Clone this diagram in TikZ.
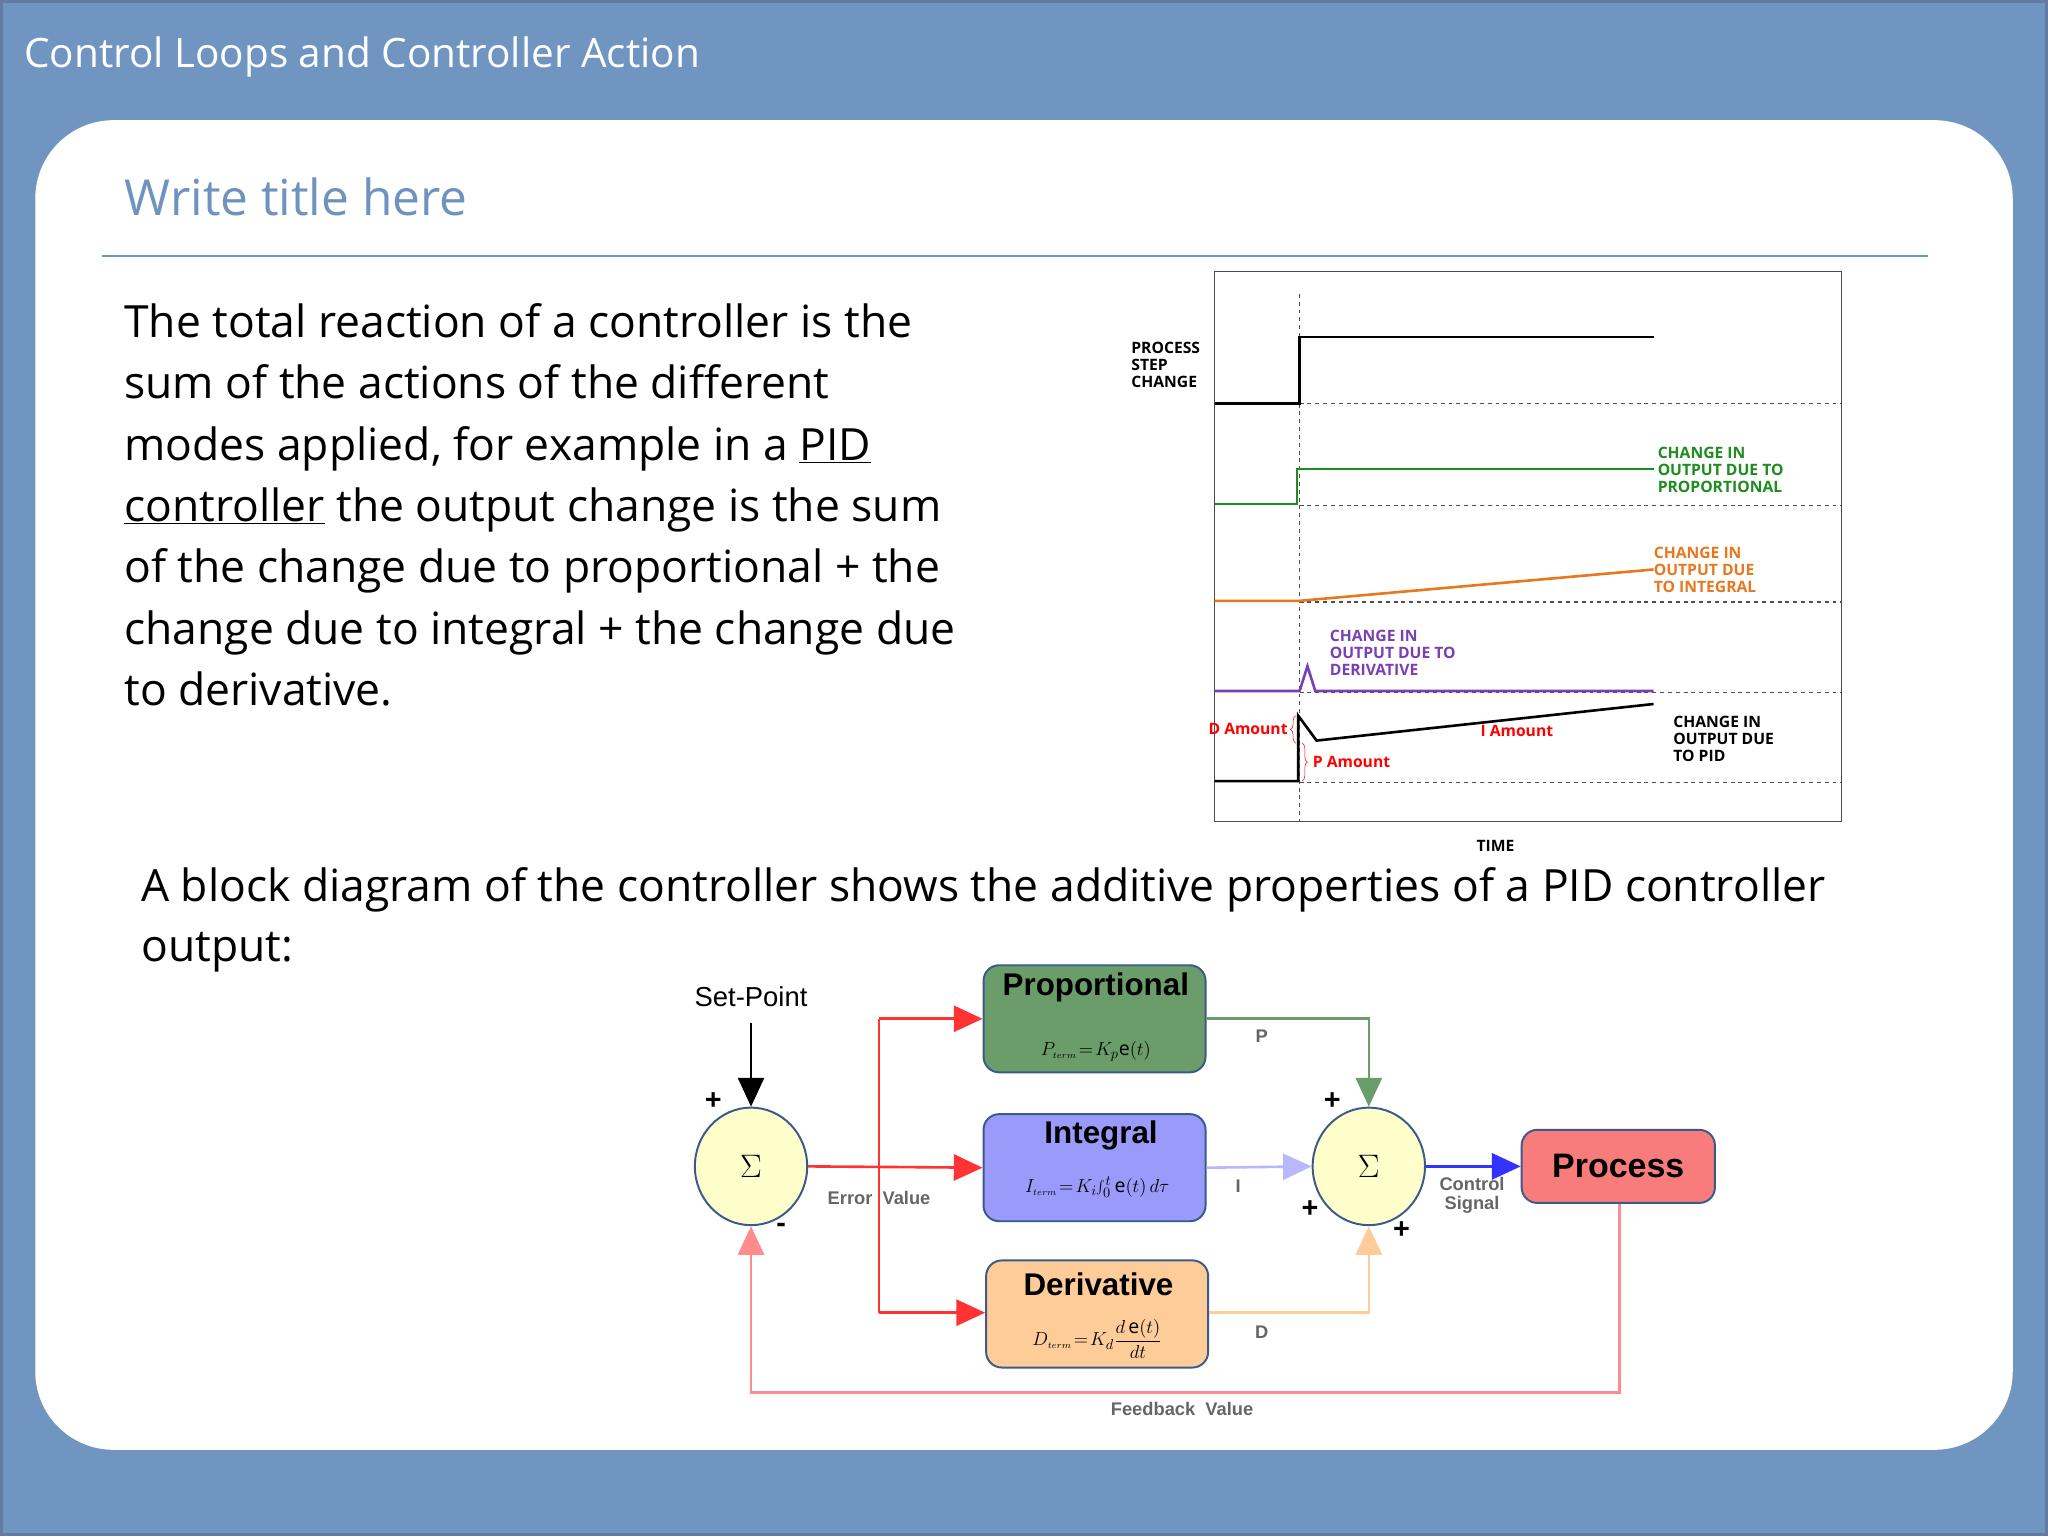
\documentclass[tikz,border=0pt]{standalone}
\usepackage{fontspec}
\setmainfont{Open Sans}
\newfontfamily\arialfont{Liberation Sans}
\usetikzlibrary{positioning}
\usetikzlibrary{arrows.meta}
\usetikzlibrary{calc, shapes}
\usetikzlibrary{decorations.pathreplacing}
\definecolor{slideBlue}{HTML}{7095C1}
\definecolor{titleBlue}{HTML}{6F93BF}
\definecolor{pGreen}{HTML}{6A9D6A}
\definecolor{iBlue}{HTML}{9A9AFA}
\definecolor{dOrange}{HTML}{FECC99}
\definecolor{procRed}{HTML}{F97C7C}
\definecolor{sumFill}{HTML}{FFFFCC}
\definecolor{boxEdge}{HTML}{3A5A8C}
\definecolor{plotGreen}{HTML}{1E8C1E}
\definecolor{plotOrange}{HTML}{E8781E}
\definecolor{plotPurple}{HTML}{7B3FB5}
\tikzset{%
	% Specifications for style of nodes:
	base/.style = {rectangle, rounded corners=12pt, draw=boxEdge, line width=1.5pt,
		inner sep=0pt, font=\arialfont},
	block/.style = {base, minimum width=170pt, minimum height=82pt},
	sumNode/.style = {ellipse, draw=boxEdge, line width=1.5pt, fill=sumFill,
		minimum width=86pt, minimum height=90pt, font=\fontsize{52}{52}\selectfont},
	plotLbl/.style = {anchor=west, font=\fontsize{12}{12}\selectfont\bfseries},
	gray/.style = {text=black!60, font=\arialfont\fontsize{14}{14}\selectfont\bfseries},
	sign/.style = {font=\arialfont\fontsize{22}{22}\selectfont\bfseries},
	bigTip/.style = {-{Triangle[length=22pt, width=20pt]}, line width=2pt}
}
\begin{document}
\begin{tikzpicture}[x=1pt, y=-1pt]
		\fill[slideBlue] (0,0) rectangle (1568,1176);
		\draw[boxEdge!80, line width=2pt] (1,1) rectangle (1567,1175);
		\node[anchor=west, text=white, font=\fontsize{31}{31}\selectfont] (slideTitle) at (15,44) {Control Loops and Controller Action};
		\fill[white, rounded corners=60pt] (27,92) rectangle (1541,1110);
		\node[anchor=west, text=titleBlue, font=\fontsize{38}{38}\selectfont] (subTitle) at (92,151) {Write title here};
		\draw[titleBlue, line width=1.5pt] (78,196) -- (1476,196);
		\node[anchor=north west, align=left, inner sep=0pt, font=\fontsize{34}{47}\selectfont] (bodyText) at (95,232) {The total reaction of a controller is the\\
			sum of the actions of the different\\
			modes applied, for example in a \underline{PID}\\
			\underline{controller} the output change is the sum\\
			of the change due to proportional + the\\
			change due to integral + the change due\\
			to derivative.};
		\node[anchor=north west, align=left, inner sep=0pt, font=\fontsize{34}{46}\selectfont] (blockText) at (108,664) {A block diagram of the controller shows the additive properties of a PID controller\\ output:};
		%% Response chart
		\draw[black!70, line width=1pt] (930,208) rectangle (1410,629);
		\draw[dashed, black!70] (995,225) -- (995,629);
		\foreach \y in {309,387,461,530,599}
			\draw[dashed, black!70, line width=1pt] (995,\y) -- (1410,\y);
		\draw[line width=2pt] (930,309) -- (995,309) -- (995,258) -- (1266,258);
		\draw[plotGreen, line width=2pt] (930,386) -- (993,386) -- (993,359) -- (1266,359);
		\draw[plotOrange, line width=2pt] (930,460) -- (995,460) -- (1266,436);
		\draw[plotPurple, line width=2pt] (930,529) -- (995,529) -- (1001,510) -- (1007,529) -- (1266,529);
		\draw[line width=2pt] (930,598) -- (994,598) -- (994,548) -- (1008,567) -- (1266,539);
		\node[plotLbl, align=left, inner sep=0pt] (stepLbl) at (866,279) {PROCESS\\[1pt]STEP\\[1pt]CHANGE};
		\node[plotLbl, align=left, inner sep=0pt, text=plotGreen] (pLbl) at (1269,360) {CHANGE IN\\[1pt]OUTPUT DUE TO\\[1pt]PROPORTIONAL};
		\node[plotLbl, align=left, inner sep=0pt, text=plotOrange] (iLbl) at (1266,436) {CHANGE IN\\[1pt]OUTPUT DUE\\[1pt]TO INTEGRAL};
		\node[plotLbl, align=left, inner sep=0pt, text=plotPurple] (dLbl) at (1018,500) {CHANGE IN\\[1pt]OUTPUT DUE TO\\[1pt]DERIVATIVE};
		\node[plotLbl, align=left, inner sep=0pt] (pidLbl) at (1281,566) {CHANGE IN\\[1pt]OUTPUT DUE\\[1pt]TO PID};
		\draw[red, decorate, decoration={brace, amplitude=4pt}] (992,569) -- (992,548);
		\draw[red, decorate, decoration={brace, amplitude=4pt}] (997,569) -- (997,598);
		\node[plotLbl, text=red, anchor=east, inner sep=1pt] (dAmt) at (987,558) {D Amount};
		\node[plotLbl, text=red, inner sep=1pt] (pAmt) at (1004,583) {P Amount};
		\node[plotLbl, text=red] (iAmt) at (1130,560) {I Amount};
		\node[plotLbl, anchor=center] (timeLbl) at (1145,648) {TIME};
		%% Block diagram
		\node[sumNode] (sumErr) at (575,893) {$\Sigma$};
		\node[sumNode] (sumOut) at (1048,893) {$\Sigma$};
		\node[block, fill=pGreen] (propBlk) at (838,780) {};
		\node[block, fill=iBlue] (intBlk) at (838,894) {};
		\node[block, fill=dOrange] (derBlk) at (840,1006) {};
		\node[base, fill=procRed, minimum width=148pt, minimum height=56pt, font=\arialfont\fontsize{26}{26}\selectfont\bfseries] (procBlk) at (1239,893) {Process};
		\node[font=\arialfont\fontsize{24}{24}\selectfont\bfseries] (propTxt) at (839,756) {Proportional};
		\node[font=\fontsize{15}{15}\selectfont] (propEq) at (839,805) {$P_{\scriptscriptstyle term}\!=\!K_p\mathrm{e}(t)$};
		\node[font=\arialfont\fontsize{24}{24}\selectfont\bfseries] (intTxt) at (843,869) {Integral};
		\node[font=\fontsize{15}{15}\selectfont] (intEq) at (840,909) {$I_{\scriptscriptstyle term}\!=\!K_i\!\int_0^t\mathrm{e}(t)\,d\tau$};
		\node[font=\arialfont\fontsize{24}{24}\selectfont\bfseries] (derTxt) at (841,983) {Derivative};
		\node[font=\fontsize{15}{15}\selectfont] (derEq) at (840,1025) {$\displaystyle D_{\scriptscriptstyle term}\!=\!K_d\frac{d\,\mathrm{e}(t)}{dt}$};
		\node[font=\arialfont\fontsize{21}{21}\selectfont] (setPt) at (575,763) {Set-Point};
		\coordinate (setTop) at (575,783);
		\coordinate (branchTop) at (673,780);
		\coordinate (branchBot) at (673,1005);
		\coordinate (pCorner) at (1048,780);
		\coordinate (dCorner) at (1048,1005);
		\coordinate (fbRight) at (1240,1066);
		\coordinate (fbLeft) at (575,1066);
		\draw[bigTip, line width=1.5pt] (setTop) -- (sumErr.north);
		\draw[bigTip, red!80] (sumErr.east) -- (intBlk.west);
		\draw[red!80, line width=2pt] (branchTop) -- (branchBot);
		\draw[bigTip, red!80] (branchTop) -- (propBlk.west |- branchTop);
		\draw[bigTip, red!80] (branchBot) -- (derBlk.west |- branchBot);
		\draw[bigTip, pGreen] (propBlk.east |- pCorner) -- (pCorner) -- (sumOut.north);
		\draw[bigTip, iBlue!70] (intBlk.east) -- (sumOut.west);
		\draw[bigTip, dOrange] (derBlk.east |- dCorner) -- (dCorner) -- (sumOut.south);
		\draw[bigTip, blue!80] (sumOut.east) -- (procBlk.west);
		\draw[bigTip, red!45] (procBlk.south -| fbRight) -- (fbRight) -- (fbLeft) -- (sumErr.south);
		\node[gray] (errLbl) at (673,917) {Error~~Value};
		\node[gray, align=center, font=\arialfont\fontsize{14}{15}\selectfont\bfseries] (ctrlLbl) at (1127,915) {Control\\Signal};
		\node[gray] (fbLbl) at (905,1079) {Feedback~~Value};
		\node[gray] (pSig) at (966,793) {P};
		\node[gray] (iSig) at (948,908) {I};
		\node[gray] (dSig) at (966,1020) {D};
		\node[sign] (plusA) at (546,843) {+};
		\node[sign] (minusA) at (598,940) {-};
		\node[sign] (plusB) at (1020,843) {+};
		\node[sign] (plusC) at (1003,926) {+};
		\node[sign] (plusD) at (1073,942) {+};
	\end{tikzpicture}
\end{document}
